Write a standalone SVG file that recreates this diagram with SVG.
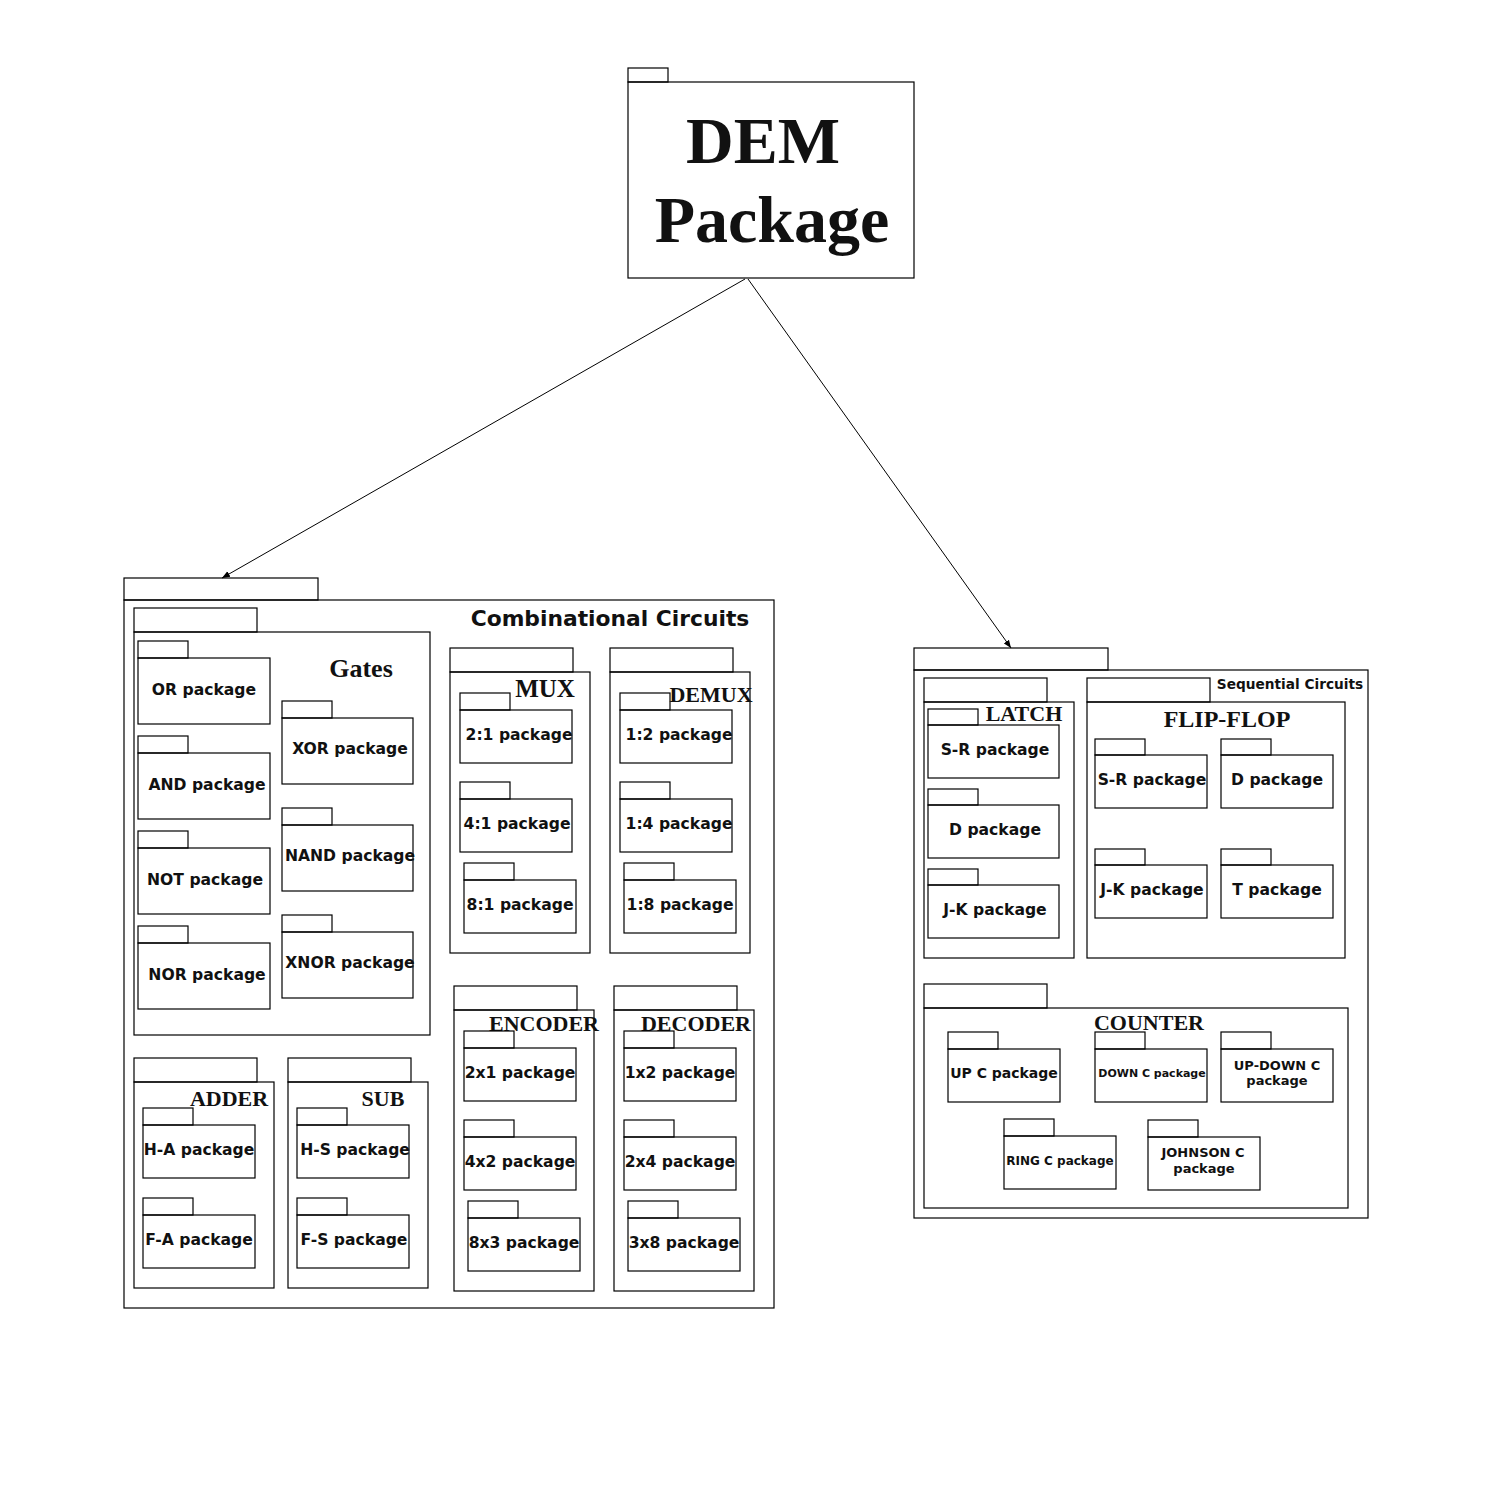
<svg xmlns="http://www.w3.org/2000/svg" width="1512" height="1508" viewBox="0 0 1512 1508">
<defs>
<marker id="ah" viewBox="0 0 10 10" refX="10" refY="5" markerWidth="8" markerHeight="8" markerUnits="userSpaceOnUse" orient="auto">
<path d="M0,1 L10,5 L0,9 Z" fill="#000"/>
</marker>
</defs>
<style>
rect{fill:none;stroke:#000;stroke-width:1.2}
.p{font-family:"DejaVu Sans",Verdana,sans-serif;font-weight:bold;font-size:15.6px;text-anchor:middle;fill:#111}
.s{font-size:11px}
.m{font-size:13px}
.t{font-family:"Liberation Serif","Times New Roman",serif;font-weight:bold;font-size:22px;text-anchor:middle;fill:#111}
.h{font-family:"DejaVu Sans",Verdana,sans-serif;font-weight:bold;text-anchor:middle;fill:#111}
</style>
<rect x="0" y="0" width="1512" height="1508" style="fill:#fff;stroke:none"/>

<g id="connectors" fill="none" stroke="#000" stroke-width="1">
<line x1="745" y1="279" x2="222" y2="578" marker-end="url(#ah)"/>
<line x1="748" y1="279" x2="1011" y2="648" marker-end="url(#ah)"/>
</g>

<g id="dem">
<rect x="628" y="68" width="40" height="14"/>
<rect x="628" y="82" width="286" height="196"/>
<text x="763" y="163" class="t" style="font-size:66px">DEM</text>
<text x="772" y="242" class="t" style="font-size:66px">Package</text>
</g>

<g id="combinational">
<rect x="124" y="578" width="194" height="22"/>
<rect x="124" y="600" width="650" height="708"/>
<text x="610" y="626" class="h" style="font-size:21.8px">Combinational Circuits</text>
</g>

<g id="gates">
<rect x="134" y="608" width="123" height="24"/>
<rect x="134" y="632" width="296" height="403"/>
<text x="361" y="677" class="t" style="font-size:26px">Gates</text>
</g>
<g id="or"><rect x="138" y="641" width="50" height="17"/><rect x="138" y="658" width="132" height="66"/><text x="204" y="695" class="p">OR  package</text></g>
<g id="and"><rect x="138" y="736" width="50" height="17"/><rect x="138" y="753" width="132" height="66"/><text x="207" y="790" class="p">AND package</text></g>
<g id="not"><rect x="138" y="831" width="50" height="17"/><rect x="138" y="848" width="132" height="66"/><text x="205" y="885" class="p">NOT package</text></g>
<g id="nor"><rect x="138" y="926" width="50" height="17"/><rect x="138" y="943" width="132" height="66"/><text x="207" y="980" class="p">NOR package</text></g>
<g id="xor"><rect x="282" y="701" width="50" height="17"/><rect x="282" y="718" width="131" height="66"/><text x="350" y="754" class="p">XOR package</text></g>
<g id="nand"><rect x="282" y="808" width="50" height="17"/><rect x="282" y="825" width="131" height="66"/><text x="350" y="861" class="p">NAND package</text></g>
<g id="xnor"><rect x="282" y="915" width="50" height="17"/><rect x="282" y="932" width="131" height="66"/><text x="350" y="968" class="p">XNOR package</text></g>

<g id="mux">
<rect x="450" y="648" width="123" height="24"/>
<rect x="450" y="672" width="140" height="281"/>
<text x="545" y="697" class="t" style="font-size:25px">MUX</text>
</g>
<g id="m21"><rect x="460" y="693" width="50" height="17"/><rect x="460" y="710" width="112" height="53"/><text x="519" y="740" class="p">2:1 package</text></g>
<g id="m41"><rect x="460" y="782" width="50" height="17"/><rect x="460" y="799" width="112" height="53"/><text x="517" y="829" class="p">4:1 package</text></g>
<g id="m81"><rect x="464" y="863" width="50" height="17"/><rect x="464" y="880" width="112" height="53"/><text x="520" y="910" class="p">8:1 package</text></g>

<g id="demux">
<rect x="610" y="648" width="123" height="24"/>
<rect x="610" y="672" width="140" height="281"/>
<text x="711" y="702" class="t">DEMUX</text>
</g>
<g id="d12"><rect x="620" y="693" width="50" height="17"/><rect x="620" y="710" width="112" height="53"/><text x="679" y="740" class="p">1:2 package</text></g>
<g id="d14"><rect x="620" y="782" width="50" height="17"/><rect x="620" y="799" width="112" height="53"/><text x="679" y="829" class="p">1:4 package</text></g>
<g id="d18"><rect x="624" y="863" width="50" height="17"/><rect x="624" y="880" width="112" height="53"/><text x="680" y="910" class="p">1:8 package</text></g>

<g id="encoder">
<rect x="454" y="986" width="123" height="24"/>
<rect x="454" y="1010" width="140" height="281"/>
<text x="544" y="1031" class="t">ENCODER</text>
</g>
<g id="e21"><rect x="464" y="1031" width="50" height="17"/><rect x="464" y="1048" width="112" height="53"/><text x="520" y="1078" class="p">2x1 package</text></g>
<g id="e42"><rect x="464" y="1120" width="50" height="17"/><rect x="464" y="1137" width="112" height="53"/><text x="520" y="1167" class="p">4x2 package</text></g>
<g id="e83"><rect x="468" y="1201" width="50" height="17"/><rect x="468" y="1218" width="112" height="53"/><text x="524" y="1248" class="p">8x3 package</text></g>

<g id="decoder">
<rect x="614" y="986" width="123" height="24"/>
<rect x="614" y="1010" width="140" height="281"/>
<text x="696" y="1031" class="t">DECODER</text>
</g>
<g id="c12"><rect x="624" y="1031" width="50" height="17"/><rect x="624" y="1048" width="112" height="53"/><text x="680" y="1078" class="p">1x2 package</text></g>
<g id="c24"><rect x="624" y="1120" width="50" height="17"/><rect x="624" y="1137" width="112" height="53"/><text x="680" y="1167" class="p">2x4 package</text></g>
<g id="c38"><rect x="628" y="1201" width="50" height="17"/><rect x="628" y="1218" width="112" height="53"/><text x="684" y="1248" class="p">3x8 package</text></g>

<g id="adder">
<rect x="134" y="1058" width="123" height="24"/>
<rect x="134" y="1082" width="140" height="206"/>
<text x="229" y="1106" class="t">ADDER</text>
</g>
<g id="ha"><rect x="143" y="1108" width="50" height="17"/><rect x="143" y="1125" width="112" height="53"/><text x="199" y="1155" class="p">H-A package</text></g>
<g id="fa"><rect x="143" y="1198" width="50" height="17"/><rect x="143" y="1215" width="112" height="53"/><text x="199" y="1245" class="p">F-A package</text></g>

<g id="sub">
<rect x="288" y="1058" width="123" height="24"/>
<rect x="288" y="1082" width="140" height="206"/>
<text x="383" y="1106" class="t">SUB</text>
</g>
<g id="hs"><rect x="297" y="1108" width="50" height="17"/><rect x="297" y="1125" width="112" height="53"/><text x="355" y="1155" class="p">H-S package</text></g>
<g id="fs"><rect x="297" y="1198" width="50" height="17"/><rect x="297" y="1215" width="112" height="53"/><text x="354" y="1245" class="p">F-S package</text></g>

<g id="sequential">
<rect x="914" y="648" width="194" height="22"/>
<rect x="914" y="670" width="454" height="548"/>
<text x="1290" y="689" class="h" style="font-size:13.7px">Sequential Circuits</text>
</g>

<g id="latch">
<rect x="924" y="678" width="123" height="24"/>
<rect x="924" y="702" width="150" height="256"/>
<text x="1024" y="721" class="t">LATCH</text>
</g>
<g id="lsr"><rect x="928" y="709" width="50" height="16"/><rect x="928" y="725" width="131" height="53"/><text x="995" y="755" class="p">S-R package</text></g>
<g id="ld"><rect x="928" y="789" width="50" height="16"/><rect x="928" y="805" width="131" height="53"/><text x="995" y="835" class="p">D package</text></g>
<g id="ljk"><rect x="928" y="869" width="50" height="16"/><rect x="928" y="885" width="131" height="53"/><text x="995" y="915" class="p">J-K package</text></g>

<g id="flipflop">
<rect x="1087" y="678" width="123" height="24"/>
<rect x="1087" y="702" width="258" height="256"/>
<text x="1227" y="727" class="t" style="font-size:24px">FLIP-FLOP</text>
</g>
<g id="fsr"><rect x="1095" y="739" width="50" height="16"/><rect x="1095" y="755" width="112" height="53"/><text x="1152" y="785" class="p">S-R package</text></g>
<g id="fd"><rect x="1221" y="739" width="50" height="16"/><rect x="1221" y="755" width="112" height="53"/><text x="1277" y="785" class="p">D package</text></g>
<g id="fjk"><rect x="1095" y="849" width="50" height="16"/><rect x="1095" y="865" width="112" height="53"/><text x="1152" y="895" class="p">J-K package</text></g>
<g id="ft"><rect x="1221" y="849" width="50" height="16"/><rect x="1221" y="865" width="112" height="53"/><text x="1277" y="895" class="p">T package</text></g>

<g id="counter">
<rect x="924" y="984" width="123" height="24"/>
<rect x="924" y="1008" width="424" height="200"/>
<text x="1149" y="1030" class="t">COUNTER</text>
</g>
<g id="upc"><rect x="948" y="1032" width="50" height="17"/><rect x="948" y="1049" width="112" height="53"/><text x="1004" y="1078" class="p" style="font-size:14px">UP C package</text></g>
<g id="downc"><rect x="1095" y="1032" width="50" height="17"/><rect x="1095" y="1049" width="112" height="53"/><text x="1152" y="1077" class="p s">DOWN C package</text></g>
<g id="updownc"><rect x="1221" y="1032" width="50" height="17"/><rect x="1221" y="1049" width="112" height="53"/><text x="1277" y="1070" class="p m">UP-DOWN C</text><text x="1277" y="1085" class="p m">package</text></g>
<g id="ringc"><rect x="1004" y="1119" width="50" height="17"/><rect x="1004" y="1136" width="112" height="53"/><text x="1060" y="1165" class="p" style="font-size:12px">RING C package</text></g>
<g id="johnsonc"><rect x="1148" y="1120" width="50" height="17"/><rect x="1148" y="1137" width="112" height="53"/><text x="1203" y="1157" class="p m">JOHNSON C</text><text x="1204" y="1173" class="p m">package</text></g>
</svg>
